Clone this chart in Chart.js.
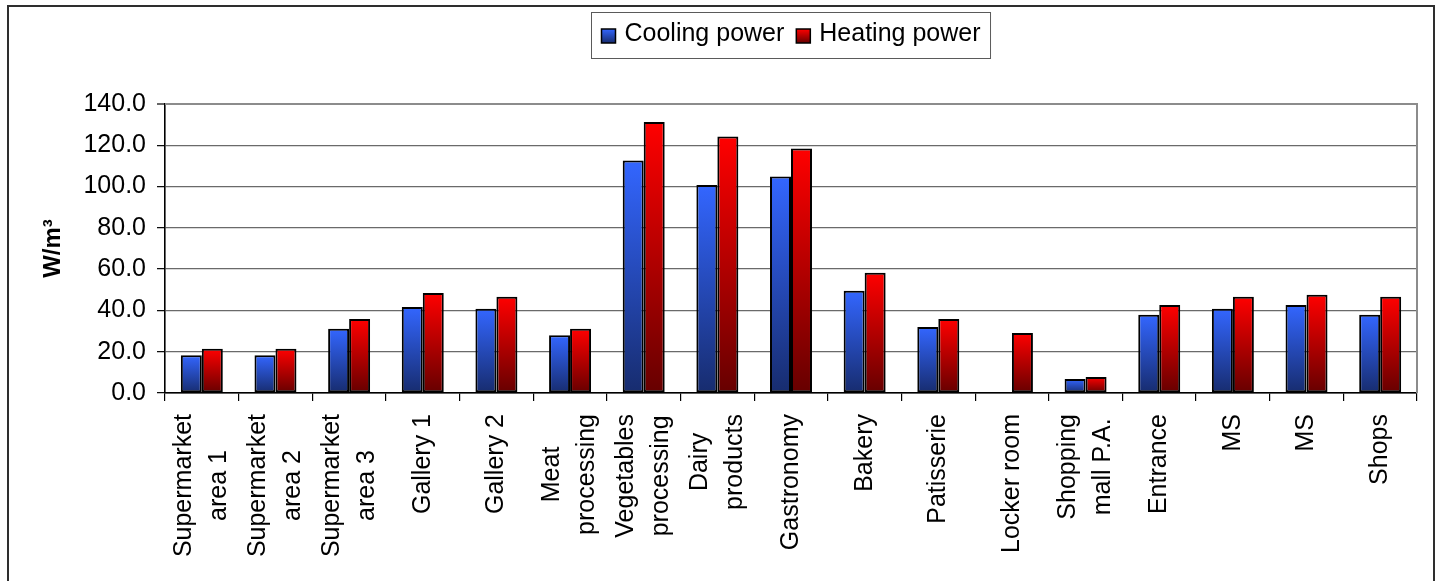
<!DOCTYPE html>
<html>
<head>
<meta charset="utf-8">
<script src="https://cdn.jsdelivr.net/npm/chart.js@4.4.1/dist/chart.umd.min.js"></script>
<style>
  html, body { margin: 0; padding: 0; background: #ffffff; }
  #wrap { position: relative; width: 1439px; height: 581px; overflow: hidden; }
  canvas { display: block; }
</style>
</head>
<body>
<div id="wrap"><canvas id="c" width="1439" height="581"></canvas></div>
<script>
// ---- data ----
const categories = [
  ["Supermarket", "area 1"],
  ["Supermarket", "area 2"],
  ["Supermarket", "area 3"],
  ["Gallery 1"],
  ["Gallery 2"],
  ["Meat", "processing"],
  ["Vegetables", "processing"],
  ["Dairy", "products"],
  ["Gastronomy"],
  ["Bakery"],
  ["Patisserie"],
  ["Locker room"],
  ["Shopping", "mall P.A."],
  ["Entrance"],
  ["MS"],
  ["MS"],
  ["Shops"]
];
const seriesNames = ["Cooling power", "Heating power"];
const coolingPower = [18.3, 18.3, 31.1, 41.7, 40.8, 28.0, 112.6, 100.8, 104.9, 49.5, 32.0, 0, 6.8, 37.9, 40.8, 42.6, 37.9];
const heatingPower = [21.4, 21.4, 35.9, 48.5, 46.6, 31.1, 131.3, 124.3, 118.4, 58.3, 35.9, 29.1, 7.8, 42.6, 46.6, 47.6, 46.6];
const yAxisTitle = "W/m³";
const yMin = 0, yMax = 140, yStep = 20;

// ---- styles ----
const FONT = '"Liberation Sans", Arial, sans-serif';
const palettes = [
  { top: '#3366FF', bottom: '#172C6E', flat: '#2F5BE0' },
  { top: '#FF0000', bottom: '#660000', flat: '#D00000' }
];

function barGradient(ctx, pal) {
  const chart = ctx.chart;
  const ys = chart.scales && chart.scales.y;
  if (!chart.chartArea || !ys || ctx.type !== 'data') return pal.flat;
  const v = ctx.parsed ? ctx.parsed.y : 0;
  const top = ys.getPixelForValue(v);
  const bottom = ys.getPixelForValue(0);
  if (!isFinite(top) || Math.abs(bottom - top) < 0.5) return pal.flat;
  const g = chart.ctx.createLinearGradient(0, top, 0, bottom);
  g.addColorStop(0, pal.top);
  g.addColorStop(1, pal.bottom);
  return g;
}

const framePlugin = {
  id: 'frame',
  beforeDraw(chart) {
    const c = chart.ctx;
    c.save();
    c.fillStyle = '#ffffff';
    c.fillRect(0, 0, chart.width, chart.height);
    c.strokeStyle = '#2e2e2e';
    c.lineWidth = 2;
    c.beginPath();
    c.moveTo(8, chart.height + 2);
    c.lineTo(8, 6);
    c.lineTo(1434, 6);
    c.lineTo(1434, chart.height + 2);
    c.stroke();
    c.restore();
  },
  afterDatasetsDraw(chart) {
    const a = chart.chartArea;
    const c = chart.ctx;
    c.save();
    c.strokeStyle = '#8c8c8c';
    c.lineWidth = 2;
    c.beginPath();
    c.moveTo(a.left, a.top);
    c.lineTo(a.right, a.top);
    c.lineTo(a.right, a.bottom);
    c.stroke();
    c.restore();
  },
  afterDraw(chart) {
    const c = chart.ctx;
    const a = chart.chartArea;
    // ---- x category labels (rotated, lines centred on each other) ----
    const xs = chart.scales.x;
    c.save();
    c.fillStyle = '#000000';
    c.font = '25px ' + FONT;
    c.textAlign = 'right';
    c.textBaseline = 'middle';
    const lineGap = 35;
    const topY = a.bottom + 21;
    categories.forEach((lines, i) => {
      const cx = xs.getPixelForValue(i);
      const widths = lines.map(t => c.measureText(t).width);
      const maxW = Math.max(...widths);
      lines.forEach((t, k) => {
        const lx = cx + (k - (lines.length - 1) / 2) * lineGap;
        const ly = topY + (maxW - widths[k]) / 2;
        c.save();
        c.translate(lx, ly);
        c.rotate(-Math.PI / 2);
        c.fillText(t, 0, 0);
        c.restore();
      });
    });
    c.restore();

    // ---- legend with frame ----
    c.save();
    c.font = '25px ' + FONT;
    const box = 14, gapText = 9, gapItem = 12, padX = 10;
    const items = chart.data.datasets.map((d, i) => ({ label: d.label, pal: palettes[i], w: c.measureText(d.label).width }));
    let total = padX * 2;
    items.forEach((it, i) => { total += box + gapText + it.w + (i > 0 ? gapItem : 0); });
    const cxLegend = (a.left + a.right) / 2;
    let x0 = Math.round(cxLegend - total / 2) + 0.5;
    const boxTop = 12.5, boxH = 46;
    c.strokeStyle = '#5a5a5a';
    c.lineWidth = 1;
    c.strokeRect(x0, boxTop, total, boxH);
    let x = x0 + padX;
    items.forEach((it, i) => {
      if (i > 0) x += gapItem;
      const my = 29;
      const g = c.createLinearGradient(0, my, 0, my + box);
      g.addColorStop(0, it.pal.top);
      g.addColorStop(1, it.pal.bottom);
      c.fillStyle = g;
      c.fillRect(x, my, box, box);
      c.strokeStyle = '#000000';
      c.lineWidth = 1.5;
      c.strokeRect(x, my, box, box);
      x += box + gapText;
      c.fillStyle = '#000000';
      c.textAlign = 'left';
      c.textBaseline = 'alphabetic';
      c.fillText(it.label, x, 41);
      x += it.w;
    });
    c.restore();
  }
};

new Chart(document.getElementById('c'), {
  type: 'bar',
  data: {
    labels: categories,
    datasets: [
      {
        label: seriesNames[0],
        data: coolingPower,
        backgroundColor: (ctx) => barGradient(ctx, palettes[0]),
        borderColor: '#000000',
        borderWidth: 2,
        borderSkipped: false,
        categoryPercentage: 0.57,
        barPercentage: 1.0
      },
      {
        label: seriesNames[1],
        data: heatingPower,
        backgroundColor: (ctx) => barGradient(ctx, palettes[1]),
        borderColor: '#000000',
        borderWidth: 2,
        borderSkipped: false,
        categoryPercentage: 0.57,
        barPercentage: 1.0
      }
    ]
  },
  options: {
    responsive: false,
    animation: false,
    devicePixelRatio: 1,
    layout: { padding: { left: 10, top: 104, right: 22, bottom: 0 } },
    plugins: {
      legend: { display: false },
      tooltip: { enabled: false },
      title: { display: false }
    },
    scales: {
      x: {
        offset: true,
        grid: {
          offset: true,
          drawOnChartArea: false,
          drawTicks: true,
          tickLength: 8,
          tickColor: '#000000',
          lineWidth: 1.2
        },
        border: { display: true, color: '#000000', width: 1.6 },
        ticks: { display: false },
        afterFit(scale) { scale.height = 581 - 393; }
      },
      y: {
        min: yMin,
        max: yMax,
        ticks: {
          stepSize: yStep,
          padding: 11,
          color: '#000000',
          font: { family: FONT, size: 25 },
          callback: (v) => Number(v).toFixed(1)
        },
        grid: {
          color: (ctx) => (ctx.tick && ctx.tick.value === 0 ? '#000000' : (ctx.tick && ctx.tick.value === yMax ? '#9a9a9a' : '#6a6a6a')),
          lineWidth: (ctx) => (ctx.tick && ctx.tick.value === yMax ? 2 : 1.3),
          tickLength: 8,
          tickColor: '#000000',
          tickWidth: 1.2
        },
        border: { display: true, color: '#000000', width: 1.6 },
        title: {
          display: true,
          text: yAxisTitle,
          color: '#000000',
          font: { family: FONT, size: 24, weight: 'bold' },
          padding: { top: 29, bottom: 0 }
        },
        afterFit(scale) { scale.width = 155; }
      }
    }
  },
  plugins: [framePlugin]
});
</script>
</body>
</html>
